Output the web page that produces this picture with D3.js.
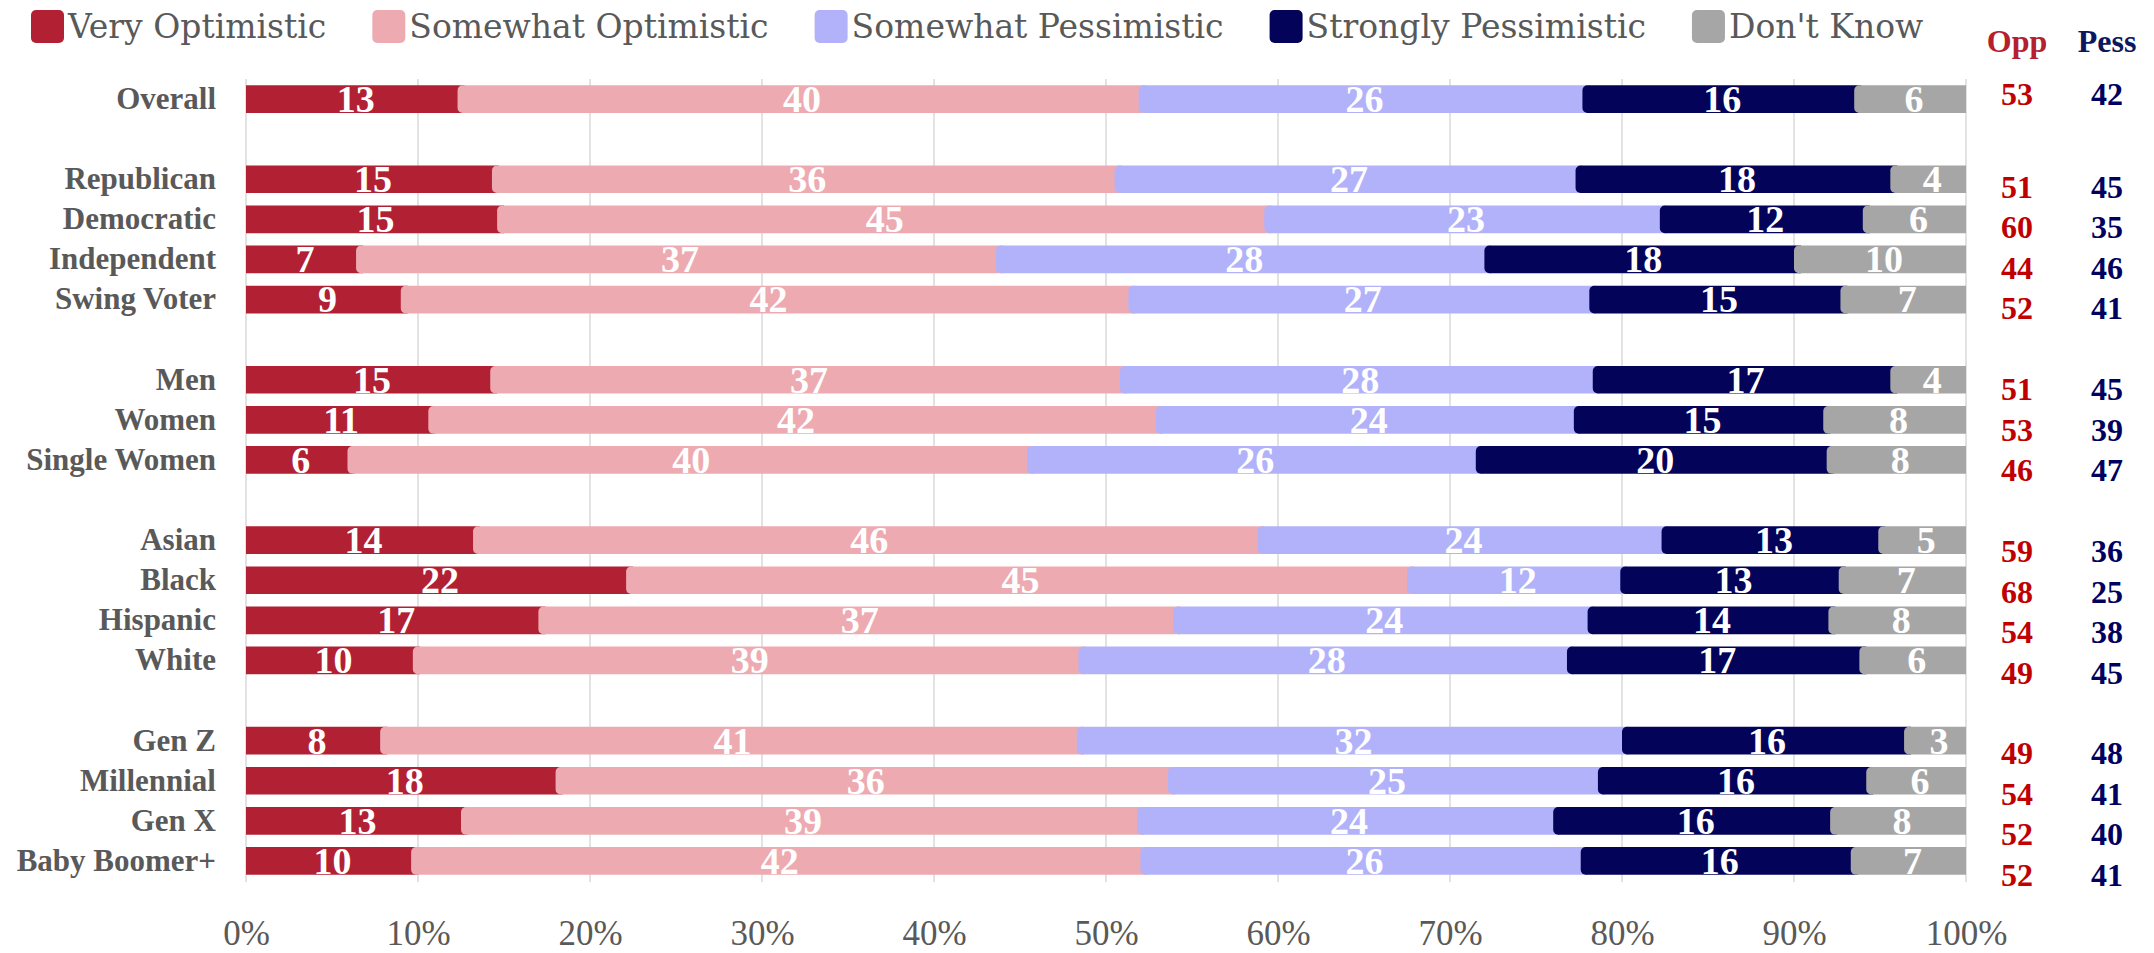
<!DOCTYPE html>
<meta charset="utf-8">
<style>
body { margin: 0; background: #fff; }
.grid line { stroke: #d9d9d9; stroke-width: 1.5px; }
.ylab { font-family: "Liberation Serif", serif; font-weight: bold; font-size: 31px; fill: #595959; }
.legend text { font-family: "DejaVu Serif", serif; font-size: 33px; fill: #595959; }
.xaxis text { font-family: "Liberation Serif", serif; font-size: 35px; fill: #595959; }
.seglab { font-family: "Liberation Serif", serif; font-weight: bold; font-size: 38px; fill: #fff; }
.side { font-family: "Liberation Serif", serif; font-weight: bold; font-size: 32px; }
.sidehead { font-family: "Liberation Serif", serif; font-weight: bold; font-size: 32px; }
</style>
<body>
<script src="https://d3js.org/d3.v7.min.js"></script>
<script>

// row groups (a blank slot goes between groups)
var groups = [
  ["Overall"],
  ["Republican", "Democratic", "Independent", "Swing Voter"],
  ["Men", "Women", "Single Women"],
  ["Asian", "Black", "Hispanic", "White"],
  ["Gen Z", "Millennial", "Gen X", "Baby Boomer+"]
];

var series = ["Very Optimistic", "Somewhat Optimistic", "Somewhat Pessimistic", "Strongly Pessimistic", "Don't Know"];
var colors = ["#b22034", "#edabb1", "#b2b2fa", "#03035a", "#a6a6a6"];

// bar lengths in percent (as drawn), rows in order
var veryOpt      = [12.3, 14.3, 14.6,  6.4,  9.0, 14.2, 10.6,  5.9, 13.2, 22.1, 17.0,  9.7,  7.8, 18.0, 12.5,  9.6];
var somewhatOpt  = [39.6, 36.2, 44.6, 37.2, 42.3, 36.6, 42.3, 39.5, 45.6, 45.4, 36.9, 38.7, 40.5, 35.6, 39.3, 42.4];
var somewhatPess = [25.8, 26.8, 23.0, 28.4, 26.8, 27.5, 24.3, 26.1, 23.5, 12.4, 24.1, 28.4, 31.7, 25.0, 24.2, 25.6];
var strongPess   = [15.8, 18.3, 11.8, 18.0, 14.6, 17.3, 14.5, 20.4, 12.6, 12.7, 14.0, 17.0, 16.4, 15.6, 16.1, 15.7];
var dontKnow     = [ 6.5,  4.4,  6.0, 10.0,  7.3,  4.4,  8.3,  8.1,  5.1,  7.4,  8.0,  6.2,  3.6,  5.8,  7.9,  6.7];

// printed labels (rounded)
var veryOptLbl      = [13, 15, 15,  7,  9, 15, 11,  6, 14, 22, 17, 10,  8, 18, 13, 10];
var somewhatOptLbl  = [40, 36, 45, 37, 42, 37, 42, 40, 46, 45, 37, 39, 41, 36, 39, 42];
var somewhatPessLbl = [26, 27, 23, 28, 27, 28, 24, 26, 24, 12, 24, 28, 32, 25, 24, 26];
var strongPessLbl   = [16, 18, 12, 18, 15, 17, 15, 20, 13, 13, 14, 17, 16, 16, 16, 16];
var dontKnowLbl     = [ 6,  4,  6, 10,  7,  4,  8,  8,  5,  7,  8,  6,  3,  6,  8,  7];

// side columns
var opp  = [53, 51, 60, 44, 52, 51, 53, 46, 59, 68, 54, 49, 49, 54, 52, 52];
var pess = [42, 45, 35, 46, 41, 45, 39, 47, 36, 25, 38, 45, 48, 41, 40, 41];

var xTicks = [0, 10, 20, 30, 40, 50, 60, 70, 80, 90, 100];

var W = 2154, H = 953;

var svg = d3.select("body").append("svg")
    .attr("width", W)
    .attr("height", H);

// build slots with spacer keys between groups
var slots = [], rows = [];
groups.forEach(function(g, gi) {
  if (gi > 0) slots.push("__gap" + gi);
  g.forEach(function(name) { slots.push(name); rows.push(name); });
});

var vals = [veryOpt, somewhatOpt, somewhatPess, strongPess, dontKnow];
var lbls = [veryOptLbl, somewhatOptLbl, somewhatPessLbl, strongPessLbl, dontKnowLbl];

var data = rows.map(function(name, i) {
  var d = {name: name, i: i};
  series.forEach(function(s, k) { d[s] = vals[k][i]; });
  return d;
});

var stack = d3.stack().keys(series);
var stacked = stack(data);

var x = d3.scaleLinear().domain([0, 100]).range([246, 1966]);
var y = d3.scaleBand().domain(slots).range([79, 881]).paddingInner(0.31).paddingOuter(0.155);
// side table sits a little lower than the bars as it goes down
var sideY = d3.scaleLinear().domain([0, 2, 19]).range([94, 187, 875]);

// gridlines
svg.append("g").attr("class", "grid")
  .selectAll("line")
  .data(xTicks)
  .enter().append("line")
    .attr("x1", function(d) { return x(d); })
    .attr("x2", function(d) { return x(d); })
    .attr("y1", 79)
    .attr("y2", 882);

// bar segments: left corners rounded (except first), each runs under the next one
var r = 5;
function segPath(x0, x1, y0, h, round) {
  var rr = round ? r : 0;
  return "M" + (x0 + rr) + "," + y0 +
    "H" + x1 + "V" + (y0 + h) + "H" + (x0 + rr) +
    (rr ? "A" + rr + "," + rr + " 0 0 1 " + x0 + "," + (y0 + h - rr) : "") +
    "V" + (y0 + rr) +
    (rr ? "A" + rr + "," + rr + " 0 0 1 " + (x0 + rr) + "," + y0 : "") + "Z";
}

var bh = y.bandwidth();
stacked.forEach(function(layer, k) {
  svg.append("g")
    .selectAll("path")
    .data(layer)
    .enter().append("path")
      .attr("fill", colors[k])
      .attr("d", function(d) {
        var x0 = x(d[0]);
        var x1 = k < series.length - 1 ? x(d[1]) + r + 2 : x(d[1]);
        return segPath(x0, x1, y(d.data.name), bh, k > 0);
      });
});

// segment labels
stacked.forEach(function(layer, k) {
  svg.append("g")
    .selectAll("text")
    .data(layer)
    .enter().append("text")
      .attr("class", "seglab")
      .attr("text-anchor", "middle")
      .attr("x", function(d) { return (x(d[0]) + x(d[1])) / 2 + 4; })
      .attr("y", function(d) { return y(d.data.name) + bh / 2; })
      .attr("dy", "0.34em")
      .text(function(d) { return lbls[k][d.data.i]; });
});

// row labels
svg.append("g")
  .selectAll("text")
  .data(rows)
  .enter().append("text")
    .attr("class", "ylab")
    .attr("text-anchor", "end")
    .attr("x", 216)
    .attr("y", function(d) { return y(d) + bh / 2; })
    .attr("dy", "0.32em")
    .text(function(d) { return d; });

// x axis
var xAxis = d3.axisBottom(x).tickValues(xTicks).tickSize(0).tickFormat(function(d) { return d + "%"; });
svg.append("g")
    .attr("class", "xaxis")
    .attr("transform", "translate(0,945)")
    .call(xAxis)
    .call(function(g) {
      g.select(".domain").remove();
      g.selectAll("text").attr("y", 0).attr("dy", null).attr("font-size", null).attr("font-family", null);
    });

// legend
var legend = svg.append("g").attr("class", "legend");
var lx = 31;
series.forEach(function(s, k) {
  legend.append("rect")
    .attr("x", lx).attr("y", 10)
    .attr("width", 33).attr("height", 33)
    .attr("rx", 5)
    .attr("fill", colors[k]);
  var t = legend.append("text")
    .attr("x", lx + 37).attr("y", 38)
    .text(s);
  lx += 37 + t.node().getComputedTextLength() + 46;
});

// Opp / Pess columns
var oppX = 2017, pessX = 2107;
svg.append("text").attr("class", "sidehead").attr("text-anchor", "middle")
  .attr("x", oppX).attr("y", 52).attr("fill", "#b5202e").text("Opp");
svg.append("text").attr("class", "sidehead").attr("text-anchor", "middle")
  .attr("x", pessX).attr("y", 52).attr("fill", "#0b1860").text("Pess");

svg.append("g")
  .selectAll("text")
  .data(rows)
  .enter().append("text")
    .attr("class", "side")
    .attr("text-anchor", "middle")
    .attr("fill", "#c00000")
    .attr("x", oppX)
    .attr("y", function(d) { return sideY(slots.indexOf(d)); })
    .attr("dy", "0.34em")
    .text(function(d, i) { return opp[i]; });

svg.append("g")
  .selectAll("text")
  .data(rows)
  .enter().append("text")
    .attr("class", "side")
    .attr("text-anchor", "middle")
    .attr("fill", "#000060")
    .attr("x", pessX)
    .attr("y", function(d) { return sideY(slots.indexOf(d)); })
    .attr("dy", "0.34em")
    .text(function(d, i) { return pess[i]; });

</script>
</body>
